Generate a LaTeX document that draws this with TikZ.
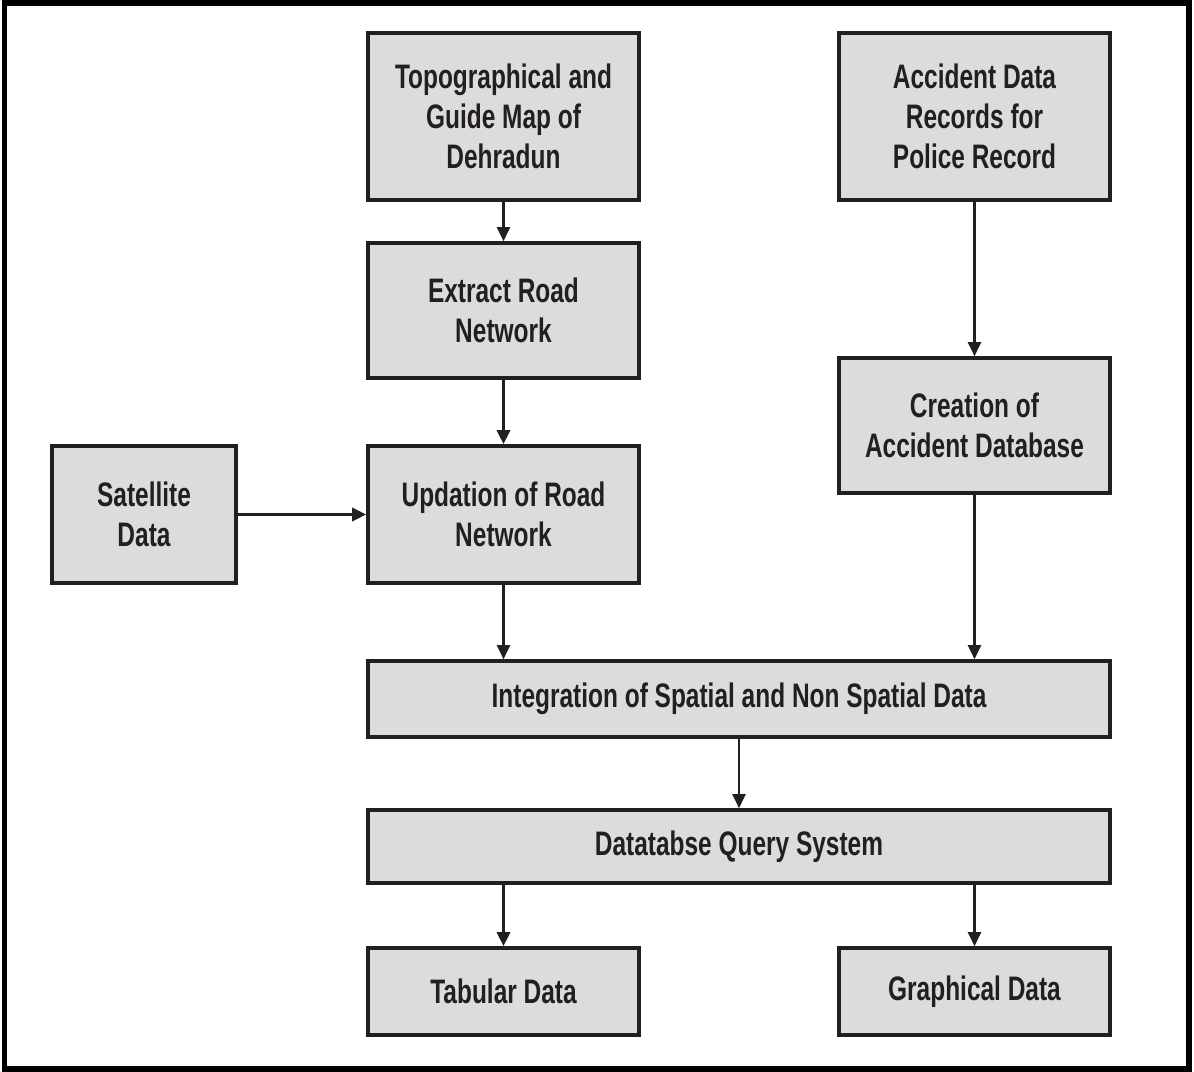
\documentclass[tikz,border=0pt]{standalone}
\usepackage{fontspec}
\setmainfont{Liberation Sans}[FakeStretch=0.72]
\usepackage{tikz}
\usetikzlibrary{arrows.meta,positioning}
\usepackage{xcolor}
\definecolor{boxfill}{HTML}{DCDCDE}
\definecolor{ink}{HTML}{231F20}

\begin{document}
\begin{tikzpicture}[x=0.03cm,y=-0.03cm,
  stagebox/.style={draw=ink,line width=3pt,fill=boxfill,text=ink,align=center,
    font=\fontsize{29}{34}\selectfont\bfseries,inner sep=0pt,
    minimum width=271*0.03cm},
  flow/.style={draw=ink,line width=2.2pt,-{Triangle[length=12pt,width=11pt]}},
  flowb/.style={flow,line width=3pt}]
  \useasboundingbox (0,0) rectangle (1194,1072);
  % Outer frame
  \draw[line width=4.3pt] (4.5,3) rectangle (1189,1069);

  % Sources
  \node[stagebox,minimum height=167*0.03cm] (topo) at (503.5,116.5) {Topographical and\\Guide Map of\\Dehradun};
  \node[stagebox,minimum height=167*0.03cm] (accdata) at (974.5,116.5) {Accident Data\\Records for\\Police Record};

  % Processing
  \node[stagebox,minimum height=135*0.03cm] (extract) at (503.5,310.5) {Extract Road\\Network};
  \node[stagebox,minimum height=135*0.03cm] (accdb) at (974.5,425.5) {Creation of\\Accident Database};
  \node[stagebox,minimum height=137*0.03cm,minimum width=184*0.03cm] (satellite) at (144,514.5) {Satellite\\Data};
  \node[stagebox,minimum height=137*0.03cm] (updation) at (503.5,514.5) {Updation of Road\\Network};

  % Integration and query
  \node[stagebox,minimum height=76*0.03cm,minimum width=742*0.03cm] (integ) at (739,699) {Integration of Spatial and Non Spatial Data};
  \node[stagebox,minimum height=73*0.03cm,minimum width=742*0.03cm] (query) at (739,846.5) {Datatabse Query System};

  % Outputs
  \node[stagebox,minimum height=87*0.03cm] (tabular) at (503.5,991.5) {Tabular Data};
  \node[stagebox,minimum height=87*0.03cm] (graphical) at (974.5,991.5) {Graphical Data};

  % Arrows
  \draw[flow] (topo) -- (extract);
  \draw[flowb] (extract) -- (updation);
  \draw[flowb] (satellite) -- (updation);
  \draw[flow] (accdata) -- (accdb);
  \draw[flow] (updation.south) -- (updation.south |- integ.north);
  \draw[flow] (accdb.south) -- (accdb.south |- integ.north);
  \draw[flow] (integ) -- (query);
  \draw[flowb] (query.south -| tabular.north) -- (tabular);
  \draw[flow] (query.south -| graphical.north) -- (graphical);
\end{tikzpicture}
\end{document}
